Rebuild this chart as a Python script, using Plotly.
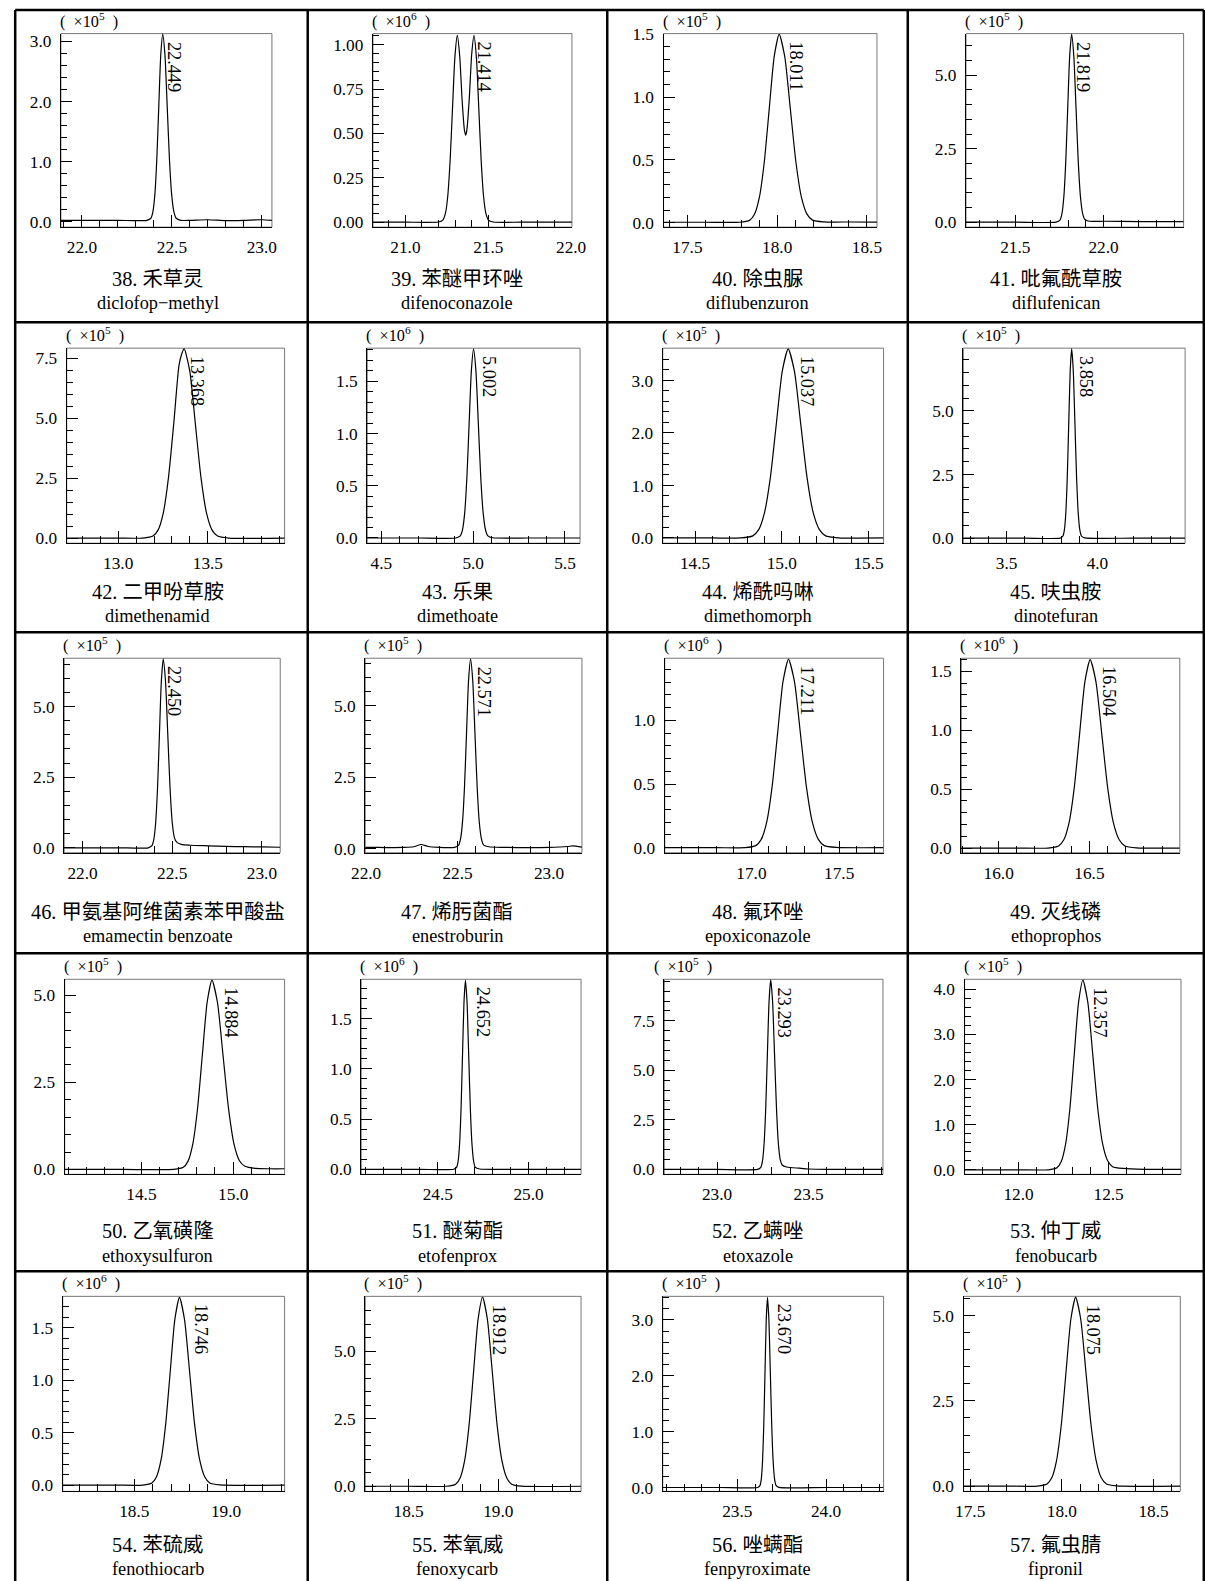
import plotly.graph_objects as go

# ---------------- compounds ----------------
compound_no = [38, 39, 40, 41, 42, 43, 44, 45, 46, 47,
               48, 49, 50, 51, 52, 53, 54, 55, 56, 57]
name_cn = ["禾草灵", "苯醚甲环唑", "除虫脲", "吡氟酰草胺", "二甲吩草胺", "乐果", "烯酰吗啉", "呋虫胺",
           "甲氨基阿维菌素苯甲酸盐", "烯肟菌酯", "氟环唑", "灭线磷", "乙氧磺隆", "醚菊酯", "乙螨唑", "仲丁威",
           "苯硫威", "苯氧威", "唑螨酯", "氟虫腈"]
name_en = ["diclofop\u2212methyl", "difenoconazole", "diflubenzuron", "diflufenican", "dimethenamid",
           "dimethoate", "dimethomorph", "dinotefuran", "emamectin benzoate", "enestroburin",
           "epoxiconazole", "ethoprophos", "ethoxysulfuron", "etofenprox", "etoxazole", "fenobucarb",
           "fenothiocarb", "fenoxycarb", "fenpyroximate", "fipronil"]
peak_rt = [22.449, 21.414, 18.011, 21.819, 13.368, 5.002, 15.037, 3.858, 22.450, 22.571,
           17.211, 16.504, 14.884, 24.652, 23.293, 12.357, 18.746, 18.912, 23.670, 18.075]
peak_text = ["22.449", "21.414", "18.011", "21.819", "13.368", "5.002", "15.037", "3.858", "22.450", "22.571",
             "17.211", "16.504", "14.884", "24.652", "23.293", "12.357", "18.746", "18.912", "23.670", "18.075"]
scale_exp = [5, 6, 5, 5, 5, 6, 5, 5, 5, 5, 6, 6, 5, 6, 5, 5, 6, 5, 5, 5]

# ---------------- chromatograms: retention time (min) / abundance ----------------
t38 = [21.883, 22.0, 22.2, 22.361, 22.383, 22.394, 22.405, 22.416, 22.427, 22.438, 22.449, 22.4615, 22.474,
       22.4865, 22.499, 22.5115, 22.524, 22.549, 22.6, 22.7, 22.8, 22.9, 23.0, 23.056]
i38 = [0.02, 0.02, 0.02, 0.02, 0.055, 0.157, 0.44, 1.03, 1.91, 2.77, 3.12, 2.77, 1.91,
       1.03, 0.44, 0.157, 0.055, 0.02, 0.02, 0.03, 0.015, 0.02, 0.03, 0.02]

t39 = [20.804, 21.0, 21.2, 21.226, 21.241, 21.255, 21.270, 21.284, 21.299, 21.313, 21.328, 21.342, 21.356,
       21.364, 21.371, 21.385, 21.400, 21.414, 21.429, 21.443, 21.457, 21.472, 21.486, 21.501, 21.53, 21.7, 22.005]
i39 = [0, 0, 0.001, 0.012, 0.048, 0.142, 0.35, 0.637, 0.935, 1.052, 0.932, 0.69, 0.52,
       0.49, 0.52, 0.69, 0.946, 1.052, 0.919, 0.637, 0.35, 0.142, 0.048, 0.012, 0.001, 0, 0]

t40 = [17.367, 17.6, 17.791, 17.846, 17.8735, 17.901, 17.9285, 17.956, 17.9835, 18.011, 18.042, 18.073,
       18.104, 18.135, 18.166, 18.197, 18.259, 18.4, 18.556]
i40 = [0.003, 0.003, 0.003, 0.018, 0.066, 0.203, 0.487, 0.910, 1.324, 1.50, 1.324, 0.910,
       0.487, 0.203, 0.068, 0.02, 0.006, 0.005, 0.004]

t41 = [21.221, 21.5, 21.731, 21.753, 21.764, 21.775, 21.786, 21.797, 21.808, 21.819, 21.8315, 21.844,
       21.8565, 21.869, 21.8815, 21.894, 21.919, 22.0, 22.2, 22.453]
i41 = [0, 0, 0.002, 0.071, 0.281, 0.866, 2.078, 3.882, 5.648, 6.40, 5.648, 3.882,
       2.078, 0.866, 0.29, 0.09, 0.03, 0.03, 0.02, 0.02]

t42 = [12.713, 13.0, 13.136, 13.194, 13.223, 13.252, 13.281, 13.310, 13.339, 13.355, 13.368, 13.399,
       13.430, 13.461, 13.492, 13.523, 13.554, 13.616, 13.928]
i42 = [0, 0, 0.003, 0.088, 0.347, 1.069, 2.565, 4.79, 7.2, 7.7, 7.9, 6.97,
       4.79, 2.565, 1.069, 0.347, 0.088, 0.005, 0]

t43 = [4.423, 4.7, 4.906, 4.930, 4.942, 4.954, 4.966, 4.978, 4.990, 5.002, 5.015, 5.028, 5.041, 5.054,
       5.067, 5.080, 5.106, 5.3, 5.582]
i43 = [0, 0, 0, 0.020, 0.079, 0.245, 0.588, 1.098, 1.597, 1.81, 1.597, 1.098, 0.588, 0.245,
       0.079, 0.020, 0.002, 0, 0]

t44 = [14.314, 14.6, 14.765, 14.833, 14.867, 14.901, 14.935, 14.969, 15.003, 15.037, 15.073, 15.109,
       15.145, 15.181, 15.217, 15.253, 15.325, 15.587]
i44 = [0, 0, 0, 0.040, 0.158, 0.487, 1.169, 2.183, 3.177, 3.60, 3.177, 2.183,
       1.169, 0.487, 0.158, 0.040, 0.003, 0]

t45 = [3.261, 3.6, 3.794, 3.810, 3.818, 3.826, 3.834, 3.842, 3.850, 3.858, 3.867, 3.876, 3.885, 3.894,
       3.903, 3.912, 3.930, 4.2, 4.483]
i45 = [0, 0, 0, 0.083, 0.327, 1.007, 2.416, 4.512, 6.566, 7.44, 6.566, 4.512, 2.416, 1.007,
       0.327, 0.083, 0.01, 0, 0]

t46 = [21.898, 22.2, 22.366, 22.387, 22.3975, 22.408, 22.4185, 22.429, 22.4395, 22.450, 22.4625, 22.475,
       22.4875, 22.500, 22.5125, 22.525, 22.55, 22.6, 22.7, 22.8, 22.9, 23.0, 23.102]
i46 = [0, 0, 0, 0.074, 0.294, 0.905, 2.172, 4.058, 5.904, 6.69, 5.904, 4.058,
       2.172, 0.905, 0.35, 0.2, 0.12, 0.09, 0.07, 0.05, 0.04, 0.03, 0.02]

t47 = [21.995, 22.05, 22.1, 22.2, 22.26, 22.3, 22.34, 22.4, 22.45, 22.483, 22.505, 22.516, 22.527, 22.538,
       22.549, 22.560, 22.571, 22.583, 22.595, 22.607, 22.619, 22.631, 22.643, 22.67, 22.75, 22.9, 23.0,
       23.1, 23.13, 23.18]
i47 = [0.05, 0.05, 0.04, 0.05, 0.07, 0.15, 0.08, 0.05, 0.04, 0.05, 0.12, 0.34, 0.95, 2.2,
       4.07, 5.9, 6.65, 5.869, 4.033, 2.159, 0.9, 0.33, 0.13, 0.07, 0.05, 0.04, 0.05,
       0.08, 0.1, 0.06]

t48 = [16.506, 16.8, 16.963, 17.025, 17.056, 17.087, 17.118, 17.149, 17.180, 17.211, 17.245, 17.279,
       17.313, 17.347, 17.381, 17.415, 17.483, 17.753]
i48 = [0, 0, 0, 0.016, 0.065, 0.200, 0.481, 0.898, 1.306, 1.48, 1.306, 0.898,
       0.481, 0.200, 0.065, 0.016, 0.002, 0]

t49 = [15.794, 16.1, 16.272, 16.330, 16.359, 16.388, 16.417, 16.446, 16.475, 16.504, 16.536, 16.568,
       16.600, 16.632, 16.664, 16.696, 16.760, 16.998]
i49 = [0, 0, 0, 0.018, 0.070, 0.216, 0.520, 0.970, 1.412, 1.60, 1.412, 0.970,
       0.520, 0.216, 0.070, 0.018, 0.002, 0]

t50 = [14.082, 14.4, 14.676, 14.728, 14.754, 14.780, 14.806, 14.832, 14.858, 14.884, 14.914, 14.944,
       14.974, 15.004, 15.034, 15.064, 15.12, 15.2, 15.28]
i50 = [0, 0, 0, 0.06, 0.239, 0.736, 1.766, 3.299, 4.801, 5.44, 4.801, 3.299,
       1.766, 0.736, 0.25, 0.09, 0.03, 0.02, 0.02]

t51 = [24.078, 24.4, 24.588, 24.604, 24.612, 24.620, 24.628, 24.636, 24.644, 24.652, 24.661, 24.670,
       24.679, 24.688, 24.697, 24.706, 24.730, 25.0, 25.289]
i51 = [0, 0, 0, 0.021, 0.083, 0.254, 0.610, 1.140, 1.659, 1.88, 1.659, 1.140,
       0.610, 0.254, 0.083, 0.021, 0.003, 0, 0]

t52 = [22.712, 23.0, 23.221, 23.239, 23.248, 23.257, 23.266, 23.275, 23.284, 23.293, 23.3035, 23.314,
       23.3245, 23.335, 23.3455, 23.356, 23.38, 23.45, 23.5, 23.6, 23.906]
i52 = [0, 0, 0, 0.106, 0.421, 1.296, 3.111, 5.81, 8.454, 9.58, 8.454, 5.81,
       3.111, 1.296, 0.48, 0.22, 0.12, 0.06, 0.02, 0, 0]

t53 = [11.7, 12.0, 12.165, 12.213, 12.237, 12.261, 12.285, 12.309, 12.333, 12.357, 12.3845, 12.412,
       12.4395, 12.467, 12.4945, 12.522, 12.58, 12.7, 12.902]
i53 = [0, 0, 0, 0.047, 0.184, 0.568, 1.364, 2.547, 3.707, 4.20, 3.707, 2.547,
       1.364, 0.568, 0.2, 0.07, 0.03, 0.01, 0.01]

t54 = [18.11, 18.4, 18.546, 18.596, 18.621, 18.646, 18.671, 18.696, 18.721, 18.746, 18.7735, 18.801,
       18.8285, 18.856, 18.8835, 18.911, 18.966, 19.319]
i54 = [0, 0, 0, 0.02, 0.079, 0.242, 0.581, 1.086, 1.58, 1.79, 1.58, 1.086,
       0.581, 0.242, 0.079, 0.02, 0.002, 0]

t55 = [18.258, 18.5, 18.712, 18.762, 18.787, 18.812, 18.837, 18.862, 18.887, 18.912, 18.939, 18.966,
       18.993, 19.020, 19.047, 19.074, 19.128, 19.461]
i55 = [0, 0, 0, 0.078, 0.307, 0.947, 2.273, 4.246, 6.178, 7.0, 6.178, 4.246,
       2.273, 0.947, 0.307, 0.078, 0.005, 0]

t56 = [23.08, 23.4, 23.614, 23.628, 23.635, 23.642, 23.649, 23.656, 23.663, 23.670, 23.678, 23.686,
       23.694, 23.702, 23.710, 23.718, 23.734, 24.0, 24.324]
i56 = [0, 0, 0, 0.038, 0.149, 0.46, 1.104, 2.062, 3.0, 3.40, 3.0, 2.062,
       1.104, 0.46, 0.149, 0.038, 0.003, 0, 0]

t57 = [17.464, 17.7, 17.867, 17.919, 17.945, 17.971, 17.997, 18.023, 18.049, 18.075, 18.103, 18.131,
       18.159, 18.187, 18.215, 18.243, 18.299, 18.646]
i57 = [0, 0, 0, 0.062, 0.244, 0.751, 1.802, 3.366, 4.898, 5.55, 4.898, 3.366,
       1.802, 0.751, 0.244, 0.062, 0.005, 0]

times = [t38, t39, t40, t41, t42, t43, t44, t45, t46, t47, t48, t49, t50, t51, t52, t53, t54, t55, t56, t57]
signals = [i38, i39, i40, i41, i42, i43, i44, i45, i46, i47, i48, i49, i50, i51, i52, i53, i54, i55, i56, i57]

# ---------------- axis ranges / ticks ----------------
x_range = [(21.883, 23.056), (20.804, 22.005), (17.367, 18.556), (21.221, 22.453),
           (12.713, 13.928), (4.423, 5.582), (14.314, 15.587), (3.261, 4.483),
           (21.898, 23.102), (21.995, 23.18), (16.506, 17.753), (15.794, 16.998),
           (14.082, 15.28), (24.078, 25.289), (22.712, 23.906), (11.7, 12.902),
           (18.11, 19.319), (18.258, 19.461), (23.08, 24.324), (17.464, 18.646)]
y_range = [(-0.093, 3.13), (-0.028, 1.062), (-0.036, 1.505), (-0.17, 6.42),
           (-0.21, 7.92), (-0.05, 1.817), (-0.1, 3.615), (-0.2, 7.46),
           (-0.176, 6.71), (-0.14, 6.67), (-0.04, 1.488), (-0.04, 1.612),
           (-0.14, 5.46), (-0.05, 1.89), (-0.25, 9.6), (-0.1, 4.22),
           (-0.06, 1.8), (-0.19, 7.03), (-0.07, 3.42), (-0.155, 5.57)]
y_major = [1.0, 0.25, 0.5, 2.5, 2.5, 0.5, 1.0, 2.5, 2.5, 2.5,
           0.5, 0.5, 2.5, 0.5, 2.5, 1.0, 0.5, 2.5, 1.0, 2.5]
y_minor = [0.2, 0.05, 0.1, 0.5, 0.5, 0.1, 0.2, 0.5, 0.5, 0.5,
           0.1, 0.1, 0.5, 0.1, 0.5, 0.2, 0.1, 0.5, 0.2, 0.5]

# ---------------- page geometry ----------------
# positions below are page pixels; they are mapped to figure pixels through the
# page placement of the figure (offset + scale measured on the rendered page)
W, H = 1222, 1590
SX, BX = 0.977, 13.8
SY, BY = 0.991, 7.9

col_lines = [15.0, 307.5, 607, 907.5, 1203.5]
row_lines = [10, 322, 632, 953, 1271]
page_bottom = 1581
frame_x = [(60.7, 271.7), (372.7, 571.7), (663.3, 876.7), (965.7, 1183.3),
           (66.5, 284.4), (367, 579.8), (662.5, 883.3), (963, 1184.8),
           (64, 280), (365, 581.7), (664.5, 883.3), (961, 1179.5),
           (64.5, 284.4), (361, 580.8), (664, 882.7), (964.3, 1180.7),
           (62.5, 284.4), (365, 580.8), (662.5, 883.3), (963.3, 1180)]
row_frame = [(33.5, 227), (348, 543), (658, 852.5), (979, 1174), (1296, 1491)]
row_title = [(279, 302.5), (592, 616), (911.5, 935.7), (1231, 1255.3), (1544.7, 1569)]
label_dx = [12, 10, 17, 12, 13, 16, 19, 15, 11, 13, 18, 19, 19, 17, 13, 17, 21, 16, 16, 17]
exp_dx = [-3] * 20
exp_dx[14] = -12

SERIF = "Liberation Serif, Times New Roman, serif"
MIXED = "Liberation Serif, Noto Sans CJK SC, sans-serif"
FS = 1.0 / ((SX + SY) / 2)   # font compensation for the page scale


def px(xp):
    return ((xp - BX) / SX) / W


def py(yp):
    return 1 - ((yp - BY) / SY) / H


fig = go.Figure()
annotations = []
shapes = []

for k in range(20):
    sfx = "" if k == 0 else str(k + 1)
    r, c = divmod(k, 4)
    fx0, fx1 = frame_x[k]
    ftop, fbot = row_frame[r]

    fig.add_trace(go.Scatter(
        x=times[k], y=signals[k], mode="lines",
        line=dict(color="black", width=1.2, shape="spline", smoothing=0.6),
        xaxis="x" + sfx, yaxis="y" + sfx, hoverinfo="skip", showlegend=False))

    tick_font = dict(family=SERIF, size=17 * FS, color="black")
    fig.update_layout({
        "xaxis" + sfx: dict(
            domain=[px(fx0), px(fx1)], range=list(x_range[k]), anchor="y" + sfx,
            showgrid=False, zeroline=False, showline=True, linecolor="black", linewidth=1.2,
            ticks="inside", ticklen=12, tickwidth=1, tickcolor="black",
            tick0=0, dtick=0.5, tickformat=".1f", tickfont=tick_font, ticklabelstandoff=4,
            minor=dict(dtick=0.1, tick0=0, ticks="inside", ticklen=7, tickwidth=1,
                       tickcolor="black", showgrid=False),
            fixedrange=True),
        "yaxis" + sfx: dict(
            domain=[py(fbot), py(ftop)], range=list(y_range[k]), anchor="x" + sfx,
            showgrid=False, zeroline=False, showline=True, linecolor="black", linewidth=1.2,
            ticks="inside", ticklen=11, tickwidth=1, tickcolor="black",
            tick0=0, dtick=y_major[k], tickformat=".2f" if y_major[k] < 0.5 else ".1f",
            tickfont=tick_font, ticklabelstandoff=5,
            minor=dict(dtick=y_minor[k], tick0=0, ticks="inside", ticklen=6, tickwidth=1,
                       tickcolor="black", showgrid=False),
            fixedrange=True),
    })

    # light frame around the plotting area
    shapes.append(dict(type="rect", xref="x" + sfx + " domain", yref="y" + sfx + " domain",
                       x0=0, x1=1, y0=0, y1=1, line=dict(color="#777777", width=1), layer="below"))

    # retention-time label next to the peak apex
    annotations.append(dict(
        x=peak_rt[k], xref="x" + sfx, y=1, yref="y" + sfx + " domain",
        text=peak_text[k], textangle=90, showarrow=False,
        xanchor="center", yanchor="top", xshift=label_dx[k], yshift=-6,
        font=dict(family=SERIF, size=18 * FS, color="black")))

    # intensity scale factor
    annotations.append(dict(
        x=px(fx0 + exp_dx[k]), xref="paper", y=py(ftop - 1), yref="paper",
        text="(\u2002\u00d710<sup>%d</sup>\u2002)" % scale_exp[k], showarrow=False,
        xanchor="left", yanchor="bottom",
        font=dict(family=SERIF, size=16 * FS, color="black")))

    # compound names
    cx = (col_lines[c] + col_lines[c + 1]) / 2 if c > 0 else 157.75
    t1, t2 = row_title[r]
    annotations.append(dict(
        x=px(cx), xref="paper", y=py(t1), yref="paper",
        text="%d. %s" % (compound_no[k], name_cn[k]), showarrow=False,
        xanchor="center", yanchor="middle",
        font=dict(family=MIXED, size=20 * FS, color="black")))
    annotations.append(dict(
        x=px(cx), xref="paper", y=py(t2), yref="paper",
        text=name_en[k], showarrow=False,
        xanchor="center", yanchor="middle",
        font=dict(family=SERIF, size=18 * FS, color="black")))

# table rules
for xl in col_lines:
    shapes.append(dict(type="line", xref="paper", yref="paper",
                       x0=px(xl), x1=px(xl), y0=py(row_lines[0]), y1=py(page_bottom),
                       line=dict(color="black", width=2.5)))
for yl in row_lines:
    shapes.append(dict(type="line", xref="paper", yref="paper",
                       x0=px(col_lines[0]), x1=px(col_lines[-1]), y0=py(yl), y1=py(yl),
                       line=dict(color="black", width=2.5)))

fig.update_layout(
    width=W, height=H, margin=dict(l=0, r=0, t=0, b=0),
    paper_bgcolor="white", plot_bgcolor="white",
    showlegend=False, annotations=annotations, shapes=shapes,
)

fig.write_html("out.html")
